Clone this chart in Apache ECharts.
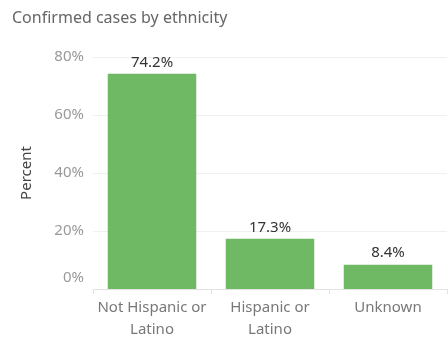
<!DOCTYPE html>
<html><head><meta charset="utf-8">
<script src="https://cdn.jsdelivr.net/npm/echarts@6/dist/echarts.min.js"></script>
<style>html,body{margin:0;padding:0;background:#fff}#c{width:448px;height:342px}</style>
</head><body><div id="c"></div>
<script>
const categories = ["Not Hispanic or Latino", "Hispanic or Latino", "Unknown"];
const percentValues = [74.2, 17.3, 8.4];
const yTicks = [0, 20, 40, 60, 80];

const chart = echarts.init(document.getElementById('c'), null, {renderer: 'canvas'});
const FONT = '"Noto Sans", sans-serif';
chart.setOption({
  animation: false,
  title: {
    text: 'Confirmed cases by ethnicity',
    left: 7, top: 5,
    textStyle: {fontFamily: FONT, fontSize: 16, fontWeight: 'normal', color: '#666'}
  },
  grid: {left: 93, right: 1, top: 57, bottom: 53, containLabel: false},
  xAxis: {
    type: 'category',
    data: categories,
    axisLine: {show: true, lineStyle: {color: '#e3e3e3'}},
    axisTick: {show: true, length: 5, lineStyle: {color: '#e3e3e3'}},
    axisLabel: {
      interval: 0, margin: 8, fontFamily: FONT, fontSize: 15, color: '#787878', lineHeight: 22,
      formatter: v => v.replace(/ Latino$/, '\nLatino')
    }
  },
  yAxis: {
    type: 'value',
    min: yTicks[0], max: yTicks[yTicks.length - 1], interval: 20,
    name: 'Percent', nameLocation: 'middle', nameGap: 59, nameRotate: 90,
    nameTextStyle: {fontFamily: FONT, fontSize: 15, color: '#444'},
    axisLine: {show: false}, axisTick: {show: false},
    splitLine: {lineStyle: {color: '#f0f0f0'}},
    axisLabel: {
      margin: 9, fontFamily: FONT, fontSize: 15, color: '#999',
      formatter: v => v === 0 ? '{z|0%}' : v + '%',
      rich: {z: {fontFamily: FONT, fontSize: 15, color: '#999', padding: [0, 0, 22, 0]}}
    }
  },
  series: [{
    type: 'bar',
    data: percentValues,
    barCategoryGap: '25%',
    itemStyle: {color: '#70b964'},
    label: {
      show: true, position: 'top', distance: 4,
      fontFamily: FONT, fontSize: 15, color: '#333',
      formatter: p => p.value.toFixed(1) + '%'
    }
  }]
});
</script></body></html>
